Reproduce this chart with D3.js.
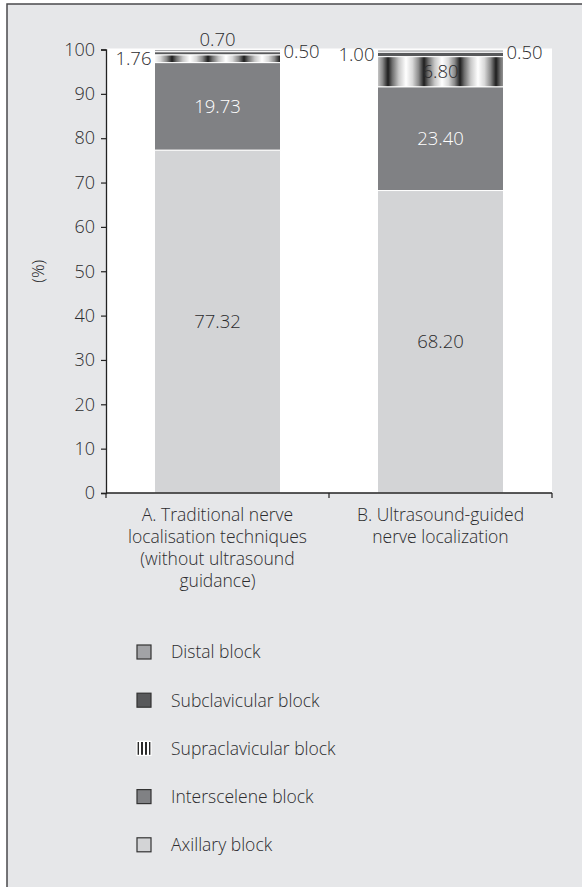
<!DOCTYPE html>
<html>
<head>
<meta charset="utf-8">
<script src="https://cdn.jsdelivr.net/npm/d3@7"></script>
<style>
  html, body { margin: 0; padding: 0; background: #ffffff; }
  svg { display: block; }
  text { font-family: "Open Sans", "Noto Sans", sans-serif; font-weight: 350; fill: #2c2c2e; }
</style>
</head>
<body>
<svg id="chart" width="582" height="887"></svg>
<script>
// Block types, bottom of the stack first
const series = ["Axillary block", "Interscelene block", "Supraclavicular block", "Subclavicular block", "Distal block"];
const categories = ["A", "B"];
const categoryLines = [
  ["A. Traditional nerve", "localisation techniques", "(without ultrasound", "guidance)"],
  ["B. Ultrasound-guided", "nerve localization"]
];
// Percentages per category, in the same order as series
const axillary = [77.32, 68.20];
const interscelene = [19.73, 23.40];
const supraclavicular = [1.76, 6.80];
const subclavicular = [0.70, 1.00];
const distal = [0.50, 0.50];
const yTicks = [0, 10, 20, 30, 40, 50, 60, 70, 80, 90, 100];
const legendOrder = ["Distal block", "Subclavicular block", "Supraclavicular block", "Interscelene block", "Axillary block"];

const rows = categories.map((c, i) => ({
  cat: c,
  "Axillary block": axillary[i],
  "Interscelene block": interscelene[i],
  "Supraclavicular block": supraclavicular[i],
  "Subclavicular block": subclavicular[i],
  "Distal block": distal[i]
}));

const svg = d3.select("#chart");
const defs = svg.append("defs");

// Shaded vertical-stripe fill for the supraclavicular segments
const grad = defs.append("linearGradient").attr("id", "stripeGrad")
  .attr("x1", "0").attr("x2", "1").attr("y1", "0").attr("y2", "0");
[[0, "#ffffff"], [0.18, "#d8d8d8"], [0.35, "#8a8a8a"], [0.5, "#1e1e1e"], [0.62, "#6e6e6e"], [0.8, "#c8c8c8"], [1, "#ffffff"]]
  .forEach(([o, c]) => grad.append("stop").attr("offset", o).attr("stop-color", c));
const pat = defs.append("pattern").attr("id", "stripes")
  .attr("patternUnits", "userSpaceOnUse").attr("width", 36).attr("height", 10).attr("x", 10);
pat.append("rect").attr("width", 36).attr("height", 10).attr("fill", "url(#stripeGrad)");

// Legend swatch version of the stripes
const patSmall = defs.append("pattern").attr("id", "stripesSmall")
  .attr("patternUnits", "userSpaceOnUse").attr("width", 4).attr("height", 4);
patSmall.append("rect").attr("width", 4).attr("height", 4).attr("fill", "#ffffff");
patSmall.append("rect").attr("width", 2).attr("height", 4).attr("fill", "#2a2a2a");

const fills = {
  "Axillary block": "#d3d4d6",
  "Interscelene block": "#808184",
  "Supraclavicular block": "url(#stripes)",
  "Subclavicular block": "#58595b",
  "Distal block": "#a2a3a6"
};
const legendFills = Object.assign({}, fills, { "Supraclavicular block": "url(#stripesSmall)" });

// Panel frame
svg.append("rect").attr("x", 7).attr("y", 4).attr("width", 600).attr("height", 900)
  .attr("fill", "#e6e7e9").attr("stroke", "#4a4a4c").attr("stroke-width", 1.5);

const plot = { left: 106, right: 552, top: 49.5, bottom: 493 };

const x = d3.scaleBand().domain(categories).range([plot.left, plot.right])
  .paddingInner(0.435).paddingOuter(0.2175);
const y = d3.scaleLinear().domain([0, 100]).range([plot.bottom, plot.top]);

// White plotting area
svg.append("rect").attr("x", plot.left).attr("y", y(100) - 1)
  .attr("width", plot.right - plot.left).attr("height", plot.bottom - y(100) + 1)
  .attr("fill", "#ffffff");

const stacked = d3.stack().keys(series)(rows);

const layers = svg.append("g").selectAll("g").data(stacked).join("g")
  .attr("fill", d => fills[d.key]);
layers.selectAll("rect").data(d => d).join("rect")
  .attr("x", d => x(d.data.cat))
  .attr("width", x.bandwidth())
  .attr("y", d => y(d[1]))
  .attr("height", d => y(d[0]) - y(d[1]))
  .attr("stroke", "#ffffff").attr("stroke-width", 1);

// Value labels
const sideLabel = {
  "A|Distal block": "right", "A|Subclavicular block": "top", "A|Supraclavicular block": "left",
  "B|Distal block": "right", "B|Subclavicular block": "left"
};
const labelG = svg.append("g").attr("font-size", 18.5);
stacked.forEach(layer => {
  layer.forEach(d => {
    const cat = d.data.cat;
    const v = d[1] - d[0];
    const x0 = x(cat), x1 = x(cat) + x.bandwidth(), xc = x0 + x.bandwidth() / 2;
    const ym = (y(d[0]) + y(d[1])) / 2;
    const place = sideLabel[cat + "|" + layer.key] || "inside";
    const t = labelG.append("text").text(v.toFixed(2)).attr("dy", "0.36em");
    if (place === "inside") {
      t.attr("x", xc).attr("y", ym).attr("text-anchor", "middle")
        .style("fill", layer.key === "Interscelene block" ? "#ffffff" : "#2c2c2e");
    } else if (place === "left") {
      t.attr("x", x0 - 3).attr("y", ym).attr("text-anchor", "end");
    } else if (place === "right") {
      t.attr("x", x1 + 3).attr("y", ym + 1).attr("text-anchor", "start");
    } else {
      t.attr("x", xc).attr("y", y(100) - 10).attr("text-anchor", "middle");
    }
  });
});

// Y axis
const yAxis = d3.axisLeft(y).tickValues(yTicks).tickSize(5).tickPadding(6).tickFormat(d3.format("d"));
const yg = svg.append("g").attr("transform", `translate(${plot.left},0)`).call(yAxis);
yg.select(".domain").attr("stroke", "#222").attr("stroke-width", 1.3);
yg.selectAll(".tick line").attr("stroke", "#222").attr("stroke-width", 1.2);
yg.selectAll(".tick text").attr("font-size", 18).attr("font-family", null).style("fill", "#2c2c2e");

svg.append("text").attr("transform", `translate(38,${(y(0) + y(100)) / 2}) rotate(-90)`)
  .attr("text-anchor", "middle").attr("dy", "0.35em").attr("font-size", 17).text("(%)");

// X axis baseline with ticks at category boundaries
const xg = svg.append("g");
xg.append("line").attr("x1", plot.left).attr("x2", plot.right)
  .attr("y1", plot.bottom).attr("y2", plot.bottom).attr("stroke", "#222").attr("stroke-width", 1.3);
const boundaries = [plot.left].concat(categories.map(c => x(c) + x.bandwidth() + x.step() * x.paddingInner() / 2));
xg.selectAll("line.tk").data(boundaries).join("line").attr("class", "tk")
  .attr("x1", d => d).attr("x2", d => d).attr("y1", plot.bottom).attr("y2", plot.bottom + 5)
  .attr("stroke", "#222").attr("stroke-width", 1.2);

categories.forEach((c, i) => {
  const t = xg.append("text").attr("x", x(c) + x.bandwidth() / 2).attr("y", 521)
    .attr("text-anchor", "middle").attr("font-size", 17.5);
  categoryLines[i].forEach((ln, j) => {
    t.append("tspan").attr("x", x(c) + x.bandwidth() / 2).attr("dy", j === 0 ? 0 : 22).text(ln);
  });
});

// Legend
const lg = svg.append("g").attr("transform", "translate(137,652)");
const items = lg.selectAll("g").data(legendOrder).join("g")
  .attr("transform", (d, i) => `translate(0,${i * 48.2})`);
items.append("rect").attr("x", 0).attr("y", -7).attr("width", 14).attr("height", 14)
  .attr("fill", d => legendFills[d]).attr("stroke", d => d === "Supraclavicular block" ? "#ffffff" : "#333")
  .attr("stroke-width", 1.2);
items.append("text").attr("x", 34).attr("dy", "0.36em").attr("font-size", 17.5).text(d => d);
</script>
</body>
</html>
